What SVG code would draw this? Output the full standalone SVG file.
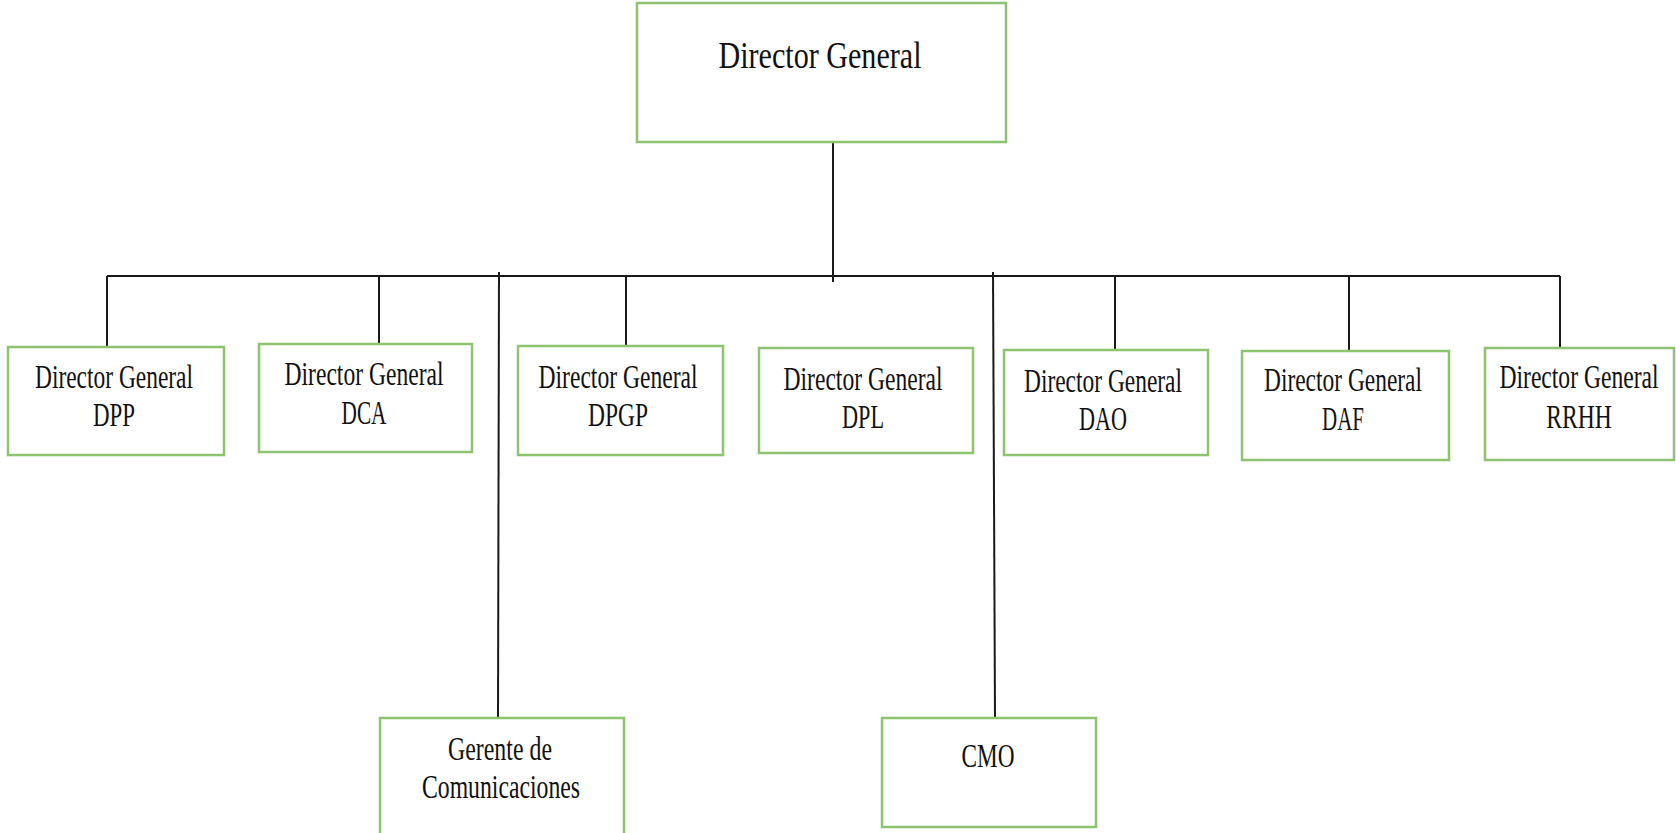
<svg xmlns="http://www.w3.org/2000/svg" width="1676" height="833" viewBox="0 0 1676 833">
<style>
.box{fill:#fff;stroke:#8cc470;stroke-width:2.5}
.ln{stroke:#1a1a1a;stroke-width:2;fill:none}
.t{font-family:"Liberation Serif","Times New Roman",serif;font-size:33px;fill:#111;text-anchor:middle}
.tt{font-family:"Liberation Serif","Times New Roman",serif;font-size:37px;fill:#111;text-anchor:middle}
</style>
<rect width="1676" height="833" fill="#fff"/>
<g id="connectors">
<line class="ln" x1="833" y1="142" x2="833" y2="282"/>
<line class="ln" x1="107" y1="276" x2="1560" y2="276"/>
<line class="ln" x1="107" y1="276" x2="107" y2="347"/>
<line class="ln" x1="379" y1="276" x2="379" y2="344"/>
<line class="ln" x1="499" y1="272" x2="498" y2="717"/>
<line class="ln" x1="626" y1="276" x2="626" y2="346"/>
<line class="ln" x1="993" y1="272" x2="995" y2="717"/>
<line class="ln" x1="1115" y1="276" x2="1115" y2="362"/>
<line class="ln" x1="1349" y1="276" x2="1349" y2="351"/>
<line class="ln" x1="1560" y1="276" x2="1560" y2="350"/>
</g>
<g id="dg">
<rect class="box" x="637" y="3" width="369" height="139"/>
<text class="tt" x="820" y="68" textLength="203" lengthAdjust="spacingAndGlyphs">Director General</text>
</g>
<g id="dpp">
<rect class="box" x="8" y="347" width="216" height="108"/>
<text class="t" x="114" y="388" textLength="158" lengthAdjust="spacingAndGlyphs">Director General</text>
<text class="t" x="114" y="426" textLength="42" lengthAdjust="spacingAndGlyphs">DPP</text>
</g>
<g id="dca">
<rect class="box" x="259" y="344" width="213" height="108"/>
<text class="t" x="364" y="385" textLength="159" lengthAdjust="spacingAndGlyphs">Director General</text>
<text class="t" x="364" y="424" textLength="45" lengthAdjust="spacingAndGlyphs">DCA</text>
</g>
<g id="dpgp">
<rect class="box" x="518" y="346" width="205" height="109"/>
<text class="t" x="618" y="388" textLength="159" lengthAdjust="spacingAndGlyphs">Director General</text>
<text class="t" x="618" y="426" textLength="60" lengthAdjust="spacingAndGlyphs">DPGP</text>
</g>
<g id="dpl">
<rect class="box" x="759" y="348" width="214" height="105"/>
<text class="t" x="863" y="390" textLength="159" lengthAdjust="spacingAndGlyphs">Director General</text>
<text class="t" x="863" y="428" textLength="42" lengthAdjust="spacingAndGlyphs">DPL</text>
</g>
<g id="dao">
<rect class="box" x="1004" y="350" width="204" height="105"/>
<text class="t" x="1103" y="392" textLength="158" lengthAdjust="spacingAndGlyphs">Director General</text>
<text class="t" x="1103" y="430" textLength="48" lengthAdjust="spacingAndGlyphs">DAO</text>
</g>
<g id="daf">
<rect class="box" x="1242" y="351" width="207" height="109"/>
<text class="t" x="1343" y="391" textLength="158" lengthAdjust="spacingAndGlyphs">Director General</text>
<text class="t" x="1343" y="430" textLength="42" lengthAdjust="spacingAndGlyphs">DAF</text>
</g>
<g id="rrhh">
<rect class="box" x="1485" y="348" width="189" height="112"/>
<g transform="translate(1579,0) scale(0.715,1)">
<text class="t" x="0" y="388">Director General</text>
<text class="t" x="0" y="428">RRHH</text>
</g>
</g>
<g id="gerente">
<rect class="box" x="380" y="718" width="244" height="125"/>
<text class="t" x="500" y="760" textLength="104" lengthAdjust="spacingAndGlyphs">Gerente de</text>
<text class="t" x="501" y="798" textLength="158" lengthAdjust="spacingAndGlyphs">Comunicaciones</text>
</g>
<g id="cmo">
<rect class="box" x="882" y="718" width="214" height="109"/>
<text class="t" x="988" y="767" textLength="53" lengthAdjust="spacingAndGlyphs">CMO</text>
</g>
</svg>
